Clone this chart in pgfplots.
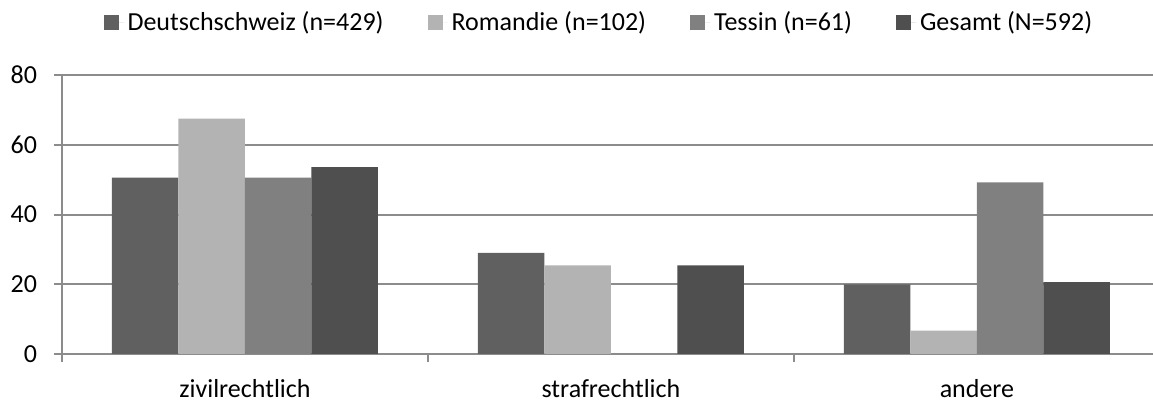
\documentclass[border=0pt]{standalone}
\usepackage{fontspec}
\setmainfont{Carlito}
\usepackage{pgfplots}
\pgfplotsset{compat=1.18}
\definecolor{deutsch}{HTML}{606060}
\definecolor{romandie}{HTML}{B3B3B3}
\definecolor{tessin}{HTML}{808080}
\definecolor{gesamt}{HTML}{4F4F4F}
\definecolor{gridgray}{HTML}{8C8C8C}

\begin{document}
\begin{tikzpicture}
\begin{axis}[
    scale only axis,
    width=545.5pt, height=139.5pt,
    ybar=0pt, bar width=33.25pt,
    xmin=-0.5, xmax=2.481,
    ymin=0, ymax=80,
    ytick={0,20,...,80},
    xtick={0,1,2},
    xticklabels={zivilrechtlich,strafrechtlich,andere},
    minor xtick={-0.5,0.5,1.5},
    ymajorgrids,
    grid style={gridgray, line width=1pt},
    axis lines*=left,
    axis line style={gridgray, line width=1pt},
    tick align=outside,
    major tick length=4pt, minor tick length=4pt,
    major x tick style={draw=none},
    minor x tick style={gridgray, line width=1pt},
    y tick style={gridgray, line width=1pt},
    font=\fontsize{13pt}{15pt}\selectfont,
    /pgf/number format/assume math mode=true,
    yticklabel style={xshift=-5pt},
    xticklabel style={yshift=-5pt},
    legend columns=4,
    legend cell align={left},
    legend style={
        at={(0.493,1.19)}, anchor=center, draw=none,
        font=\fontsize{13pt}{15pt}\selectfont,
        /tikz/every even column/.append style={column sep=20pt},
    },
    legend image code/.code={
        \draw[#1, draw=none] (0pt,-3.75pt) rectangle (7.5pt,3.75pt);
        \path (0pt,0pt) -- (10pt,0pt);
    },
]

\addplot[fill=deutsch, draw=none]
    coordinates {(0,50.6) (1,29.0) (2,20.0)};
\addplot[fill=romandie, draw=none]
    coordinates {(0,67.5) (1,25.4) (2,6.7)};
\addplot[fill=tessin, draw=none]
    coordinates {(0,50.6) (1,0) (2,49.2)};
\addplot[fill=gesamt, draw=none]
    coordinates {(0,53.6) (1,25.4) (2,20.6)};

\legend{Deutschschweiz (n=429), Romandie (n=102), Tessin (n=61), Gesamt (N=592)}

\end{axis}
\pgfresetboundingbox
\path (-31pt,-23.5pt) rectangle (545.5pt,177pt);
\end{tikzpicture}
\end{document}
